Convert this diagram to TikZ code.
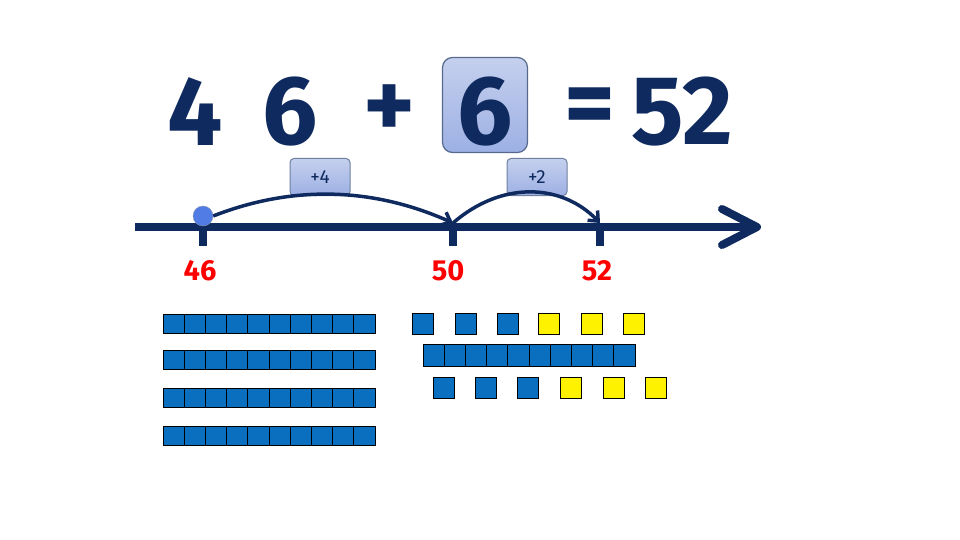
\documentclass[tikz,border=0pt]{standalone}
\usepackage{fontspec}
\setmainfont{Fira Sans}
\usetikzlibrary{arrows.meta}
\definecolor{navy}{HTML}{0F2A5E}
\definecolor{cube}{HTML}{0B6FC0}
\definecolor{lbox}{HTML}{C5D0EE}
\definecolor{dbox}{HTML}{9DB0E4}
\begin{document}
\begin{tikzpicture}[x=1pt,y=-1pt,
  big/.style={text=navy,font=\fontsize{98}{98}\selectfont\bfseries,inner sep=0},
  lab/.style={text=red,font=\fontsize{29}{29}\selectfont\bfseries},
  tag/.style={draw=navy!60,line width=1pt,rounded corners=4pt,top color=lbox,bottom color=dbox,minimum width=60,minimum height=37,text=navy,font=\fontsize{19}{19}\selectfont},
  bsq/.style={draw=black,fill=cube,line width=1pt},
  ysq/.style={draw=black,fill=yellow,line width=1pt},
  jump/.style={draw=navy,line width=3.5pt,-{Straight Barb[length=8pt,width=14pt]}}]
\useasboundingbox (0,0) rectangle (960,540);
\node[draw=navy!70,line width=1.2pt,rounded corners=10pt,top color=lbox,bottom color=dbox,minimum width=85,minimum height=95] (box6) at (485,105) {};
\node[big] (d4) at (195,112) {4};
\node[big] (d6) at (290,112) {6};
\node[big] (pl) at (390,112) {+};
\node[big] (d62) at (485,112) {6};
\node[big] (eq) at (590,112) {=};
\node[big] (r) at (682,112) {52};
\node[tag] (t4) at (320,177) {+4};
\node[tag] (t2) at (537,177) {+2};
\coordinate (L) at (135,227);
\coordinate (R) at (757,227);
\draw[navy,line width=8pt] (L) -- (752,227);
\draw[navy,line width=8pt,line cap=round,line join=round] (722,209) -- (R) -- (722,245);
\foreach \x in {203,453,600}{
  \draw[navy,line width=8pt] (\x,227) -- (\x,246);
}
\node[circle,fill=cube!60!blue!70!white,draw=navy!50,minimum size=20,inner sep=0] (dot) at (203,216) {};
\coordinate (p50) at (453,223);
\coordinate (p52) at (600,223);
\draw[jump] (dot.east) .. controls (290,186) and (370,186) .. (p50);
\draw[jump] (p50) .. controls (500,182) and (560,182) .. (p52);
\node[lab] (l46) at (200,271) {46};
\node[lab] (l50) at (448,271) {50};
\node[lab] (l52) at (597,271) {52};
\foreach \y in {314,350,388,426}{
  \foreach \i in {0,...,9}{
    \draw[bsq] (163+21.2*\i,\y) rectangle ++(21.2,19.5);
  }
}
\foreach \x in {412,455,497}{\draw[bsq] (\x,313) rectangle ++(21,21);}
\foreach \x in {538,581,623}{\draw[ysq] (\x,313) rectangle ++(21,21);}
\foreach \i in {0,...,9}{\draw[bsq] (423+21.2*\i,344) rectangle ++(21.2,22);}
\foreach \x in {433,475,517}{\draw[bsq] (\x,377) rectangle ++(21,21);}
\foreach \x in {560,603,645}{\draw[ysq] (\x,377) rectangle ++(21,21);}
\end{tikzpicture}
\end{document}
